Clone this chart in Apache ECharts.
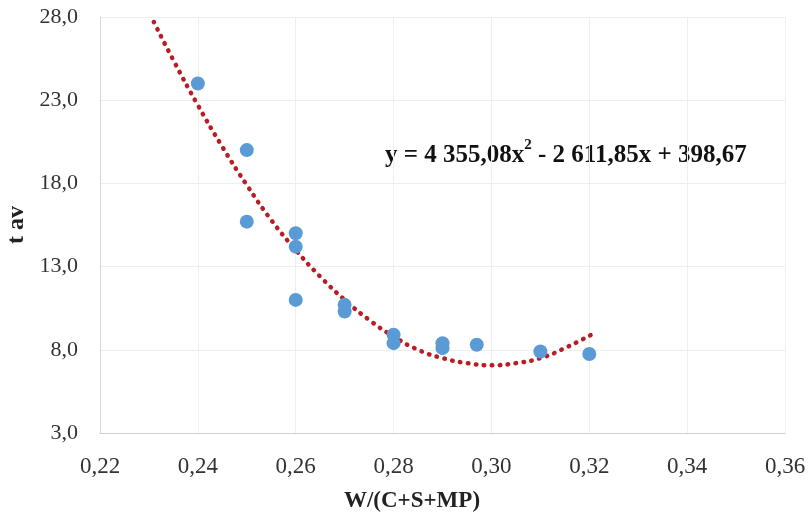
<!DOCTYPE html>
<html>
<head>
<meta charset="utf-8">
<script src="https://cdn.jsdelivr.net/npm/echarts@6/dist/echarts.min.js"></script>
<style>html,body{margin:0;padding:0;background:#fff}#c{width:810px;height:522px}</style>
</head>
<body>
<div id="c"></div>
<script>
// Measured points
var pointX = [0.24, 0.25, 0.25, 0.26, 0.26, 0.26, 0.27, 0.27, 0.28, 0.28, 0.29, 0.29, 0.297, 0.31, 0.32];
var pointY = [24.0, 20.0, 15.7, 15.0, 14.2, 11.0, 10.7, 10.3, 8.9, 8.4, 8.4, 8.1, 8.3, 7.9, 7.75];
// Trend curve
var trendX = [0.231, 0.235, 0.24, 0.245, 0.25, 0.255, 0.26, 0.265, 0.27, 0.275, 0.28, 0.285, 0.29, 0.295, 0.30, 0.305, 0.31, 0.315, 0.321];
var trendY = [27.7, 25.4, 22.7, 20.2, 17.9, 15.8, 14.0, 12.4, 11.0, 9.8, 8.8, 8.0, 7.5, 7.2, 7.07, 7.2, 7.5, 8.1, 9.0];
var xTicks = [0.22, 0.24, 0.26, 0.28, 0.30, 0.32, 0.34, 0.36];
var yTicks = [3, 8, 13, 18, 23, 28];
var xName = 'W/(C+S+MP)';
var yName = 't av';
var equationParts = ['y = 4 355,08x', '2', ' - 2 611,85x + 398,67'];

var chart = echarts.init(document.getElementById('c'));
var serif = '"Liberation Serif", "DejaVu Serif", serif';
chart.setOption({
  animation: false,
  backgroundColor: '#fff',
  grid: {left: 100, right: 25, top: 17, bottom: 89},
  xAxis: {
    type: 'value', min: xTicks[0], max: xTicks[xTicks.length - 1], interval: 0.02,
    axisLine: {show: true, lineStyle: {color: '#d0d0d0', width: 1}},
    axisTick: {show: false},
    axisLabel: {fontFamily: serif, fontSize: 23, color: '#333', margin: 22,
      formatter: function (v) { return v.toFixed(2).replace('.', ','); }},
    splitLine: {show: true, lineStyle: {color: '#eeeeee', width: 1}}
  },
  yAxis: {
    type: 'value', min: yTicks[0], max: yTicks[yTicks.length - 1], interval: 5,
    axisLine: {show: true, lineStyle: {color: '#d8d8d8', width: 1}},
    axisTick: {show: false},
    axisLabel: {fontFamily: serif, fontSize: 22, color: '#333', margin: 22,
      formatter: function (v) { return v.toFixed(1).replace('.', ','); }},
    splitLine: {show: true, lineStyle: {color: '#eeeeee', width: 1}}
  },
  series: [
    {
      type: 'line', smooth: true, symbol: 'none', z: 2,
      data: trendX.map(function (x, i) { return [x, trendY[i]]; }),
      lineStyle: {color: '#b81c24', width: 4.5, type: [0.5, 7.5], cap: 'round'}
    },
    {
      type: 'scatter', symbolSize: 14, z: 3,
      data: pointX.map(function (x, i) { return [x, pointY[i]]; }),
      itemStyle: {color: '#5b9bd5', opacity: 1}
    }
  ],
  graphic: [
    {
      type: 'text', left: 385, top: 138,
      style: {
        text: '{a|' + equationParts[0] + '}{s|' + equationParts[1] + '}{a|' + equationParts[2] + '}',
        rich: {
          a: {fontFamily: serif, fontWeight: 'bold', fontSize: 25, fill: '#111', verticalAlign: 'bottom', lineHeight: 30},
          s: {fontFamily: serif, fontWeight: 'bold', fontSize: 15, fill: '#111', verticalAlign: 'top', lineHeight: 30, padding: [0, 0, 12, 0]}
        }
      }
    },
    {
      type: 'text', x: 412, y: 501,
      style: {text: xName, fontFamily: serif, fontWeight: 'bold', fontSize: 23, fill: '#222', align: 'center', verticalAlign: 'middle'}
    },
    {
      type: 'text', x: 17, y: 225, rotation: Math.PI / 2,
      style: {text: yName, fontFamily: serif, fontWeight: 'bold', fontSize: 24, fill: '#222', align: 'center', verticalAlign: 'middle'}
    }
  ]
});
</script>
</body>
</html>
